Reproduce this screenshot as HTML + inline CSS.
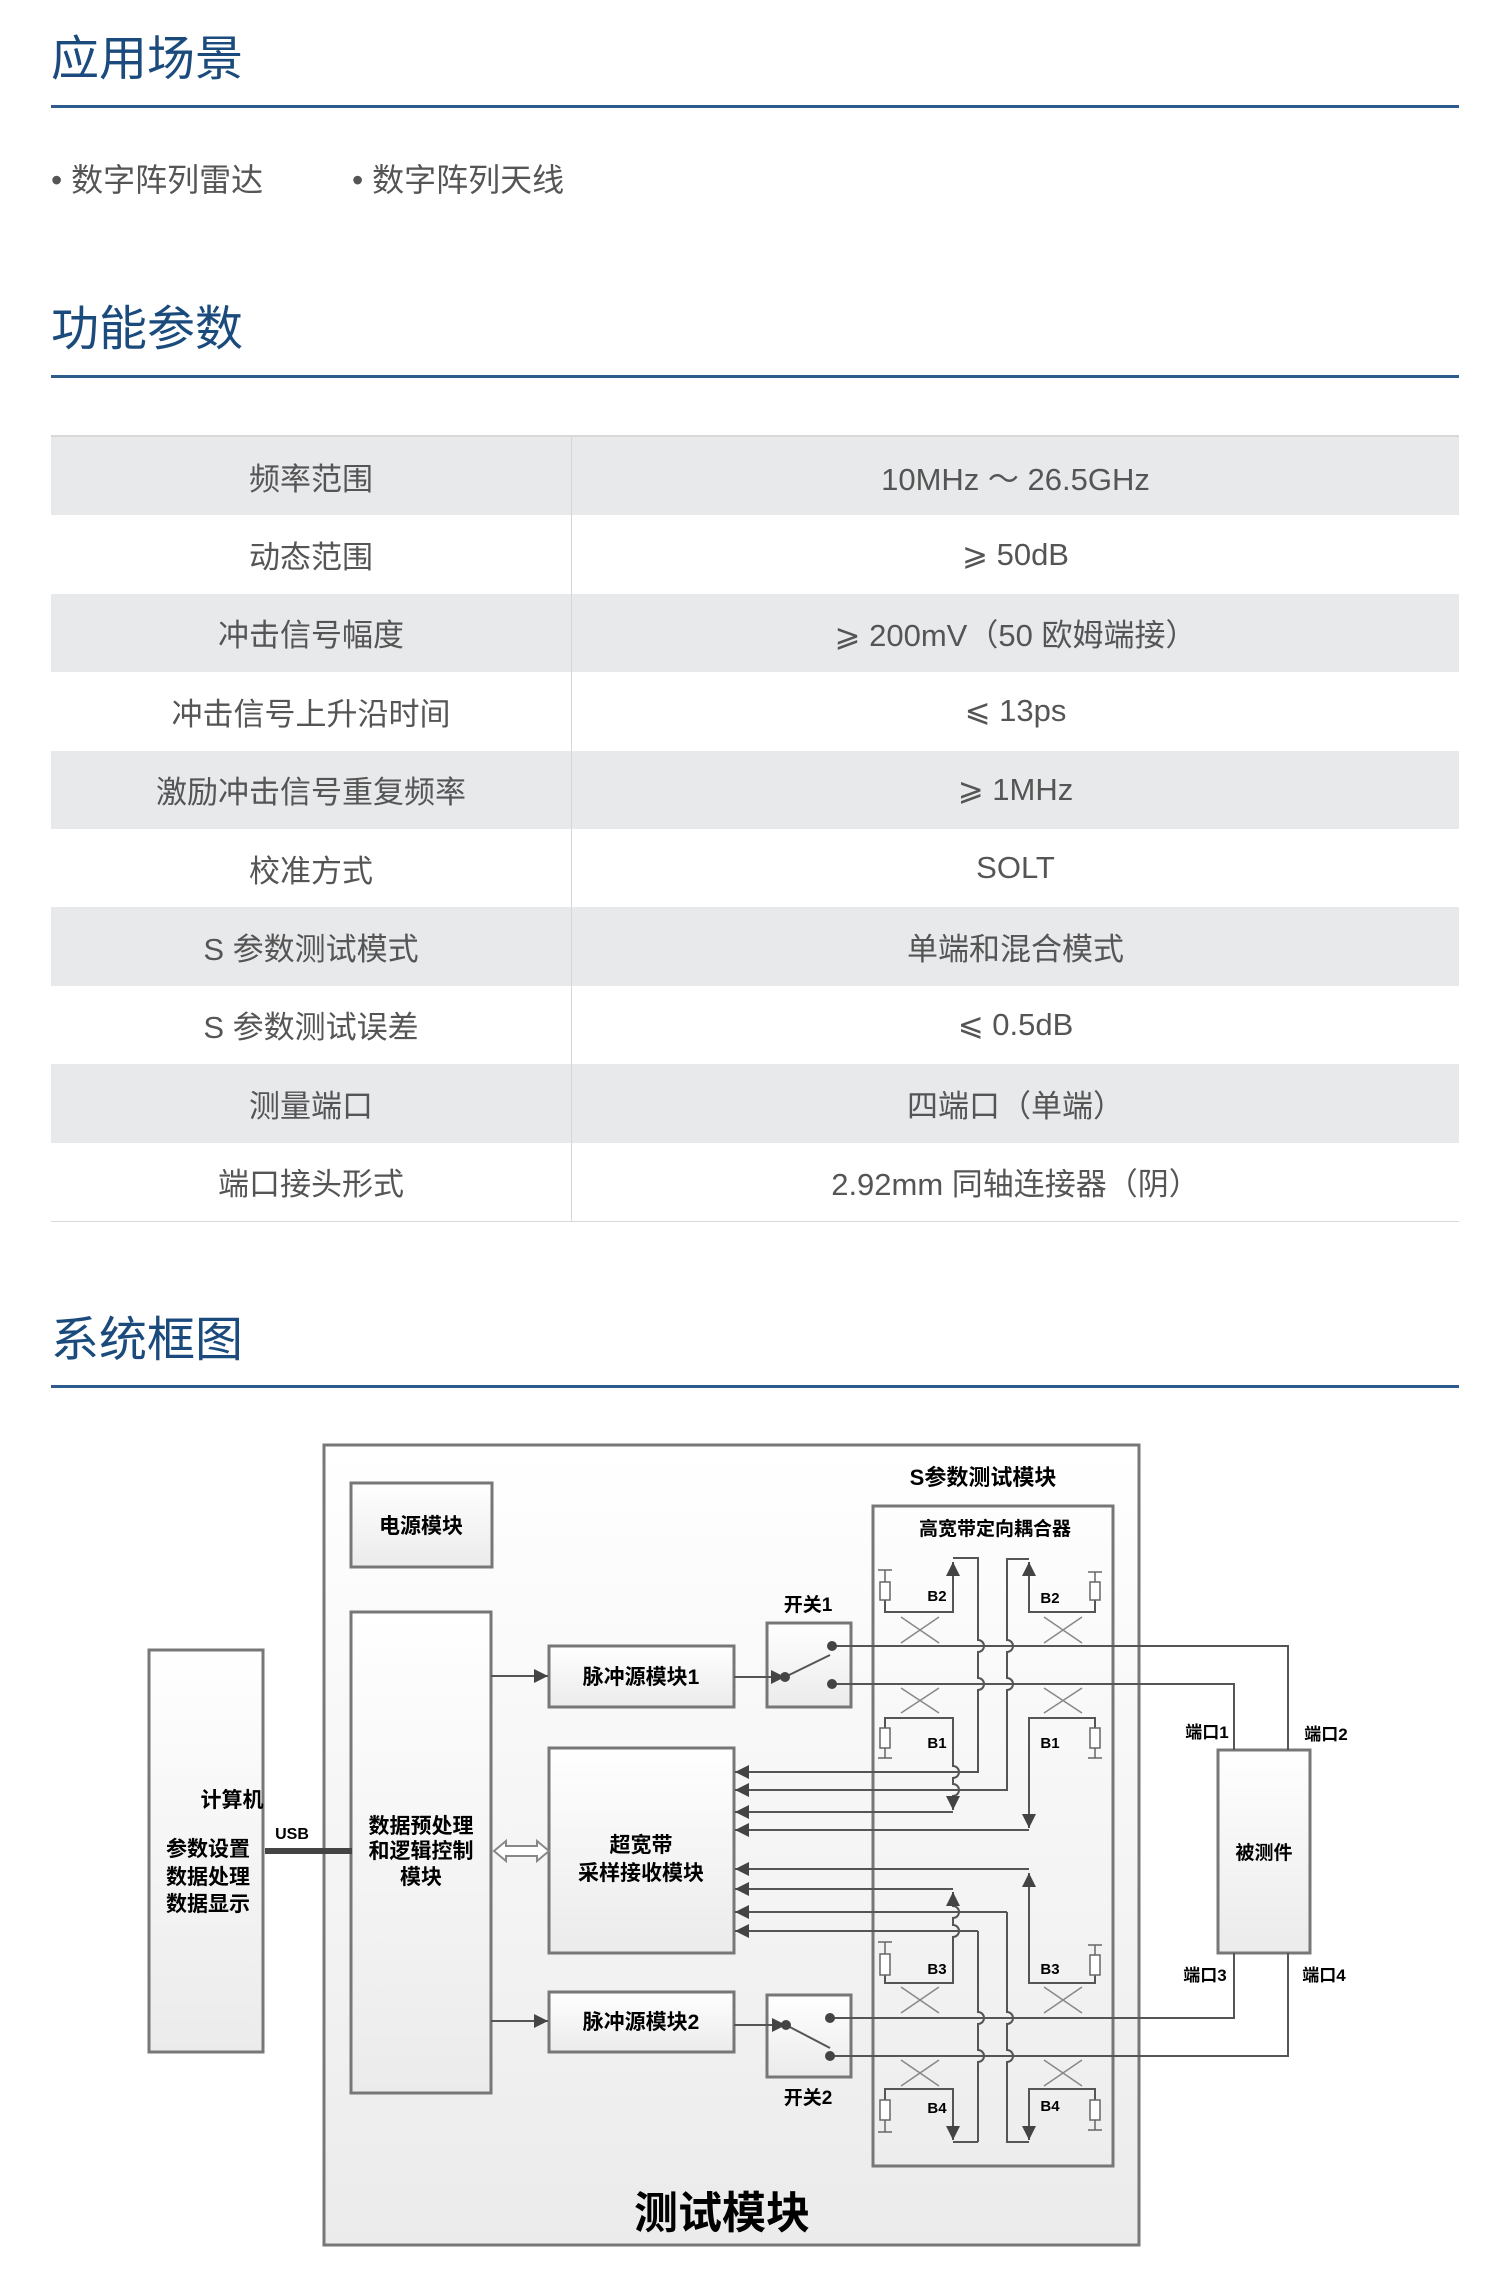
<!DOCTYPE html>
<html><head><meta charset="utf-8"><style>
body{margin:0;width:1500px;height:2282px;background:#fff;position:relative;overflow:hidden;font-family:"Liberation Sans","Noto Sans CJK SC",sans-serif;}
.h{position:absolute;left:51px;font-size:48px;color:#1b4a7c;line-height:1;}
.hl{position:absolute;left:51px;width:1408px;height:3px;background:#2d5b8c;}
.b{position:absolute;top:164px;font-size:32px;color:#555;line-height:1;}
table{position:absolute;left:51px;top:435px;width:1408px;border-collapse:collapse;border-top:2px solid #d8d8d8;border-bottom:1px solid #d8d8d8;}
td{height:78.4px;padding:0;text-align:center;font-size:31px;color:#555;}
td:first-child{width:520px;border-right:1px solid #d6d6d6;}
tr:nth-child(odd) td{background:#e8e9eb;}
</style></head><body>
<div class="h" style="top:36px">应用场景</div>
<div class="hl" style="top:105px"></div>
<div class="b" style="left:51px">• 数字阵列雷达</div>
<div class="b" style="left:352px">• 数字阵列天线</div>
<div class="h" style="top:306px">功能参数</div>
<div class="hl" style="top:375px"></div>
<table>
<tr><td>频率范围</td><td>10MHz ～ 26.5GHz</td></tr>
<tr><td>动态范围</td><td>⩾ 50dB</td></tr>
<tr><td>冲击信号幅度</td><td>⩾ 200mV（50 欧姆端接）</td></tr>
<tr><td>冲击信号上升沿时间</td><td>⩽ 13ps</td></tr>
<tr><td>激励冲击信号重复频率</td><td>⩾ 1MHz</td></tr>
<tr><td>校准方式</td><td>SOLT</td></tr>
<tr><td>S 参数测试模式</td><td>单端和混合模式</td></tr>
<tr><td>S 参数测试误差</td><td>⩽ 0.5dB</td></tr>
<tr><td>测量端口</td><td>四端口（单端）</td></tr>
<tr><td>端口接头形式</td><td>2.92mm 同轴连接器（阴）</td></tr>
</table>
<div class="h" style="top:1317px">系统框图</div>
<div class="hl" style="top:1385px"></div>

<svg style="position:absolute;left:0;top:0" width="1500" height="2282" viewBox="0 0 1500 2282" font-family="Liberation Sans, Noto Sans CJK SC, sans-serif" font-weight="bold">
<defs>
<linearGradient id="g" x1="0" y1="0" x2="0" y2="1"><stop offset="0" stop-color="#fff"/><stop offset="1" stop-color="#ebebeb"/></linearGradient>
<marker id="a2" viewBox="0 0 10 10" refX="10" refY="5" markerWidth="14" markerHeight="14" markerUnits="userSpaceOnUse" orient="auto"><path d="M0,0 L10,5 L0,10 z" fill="#444"/></marker>
</defs>
<g stroke="#777" stroke-width="3" fill="url(#g)">
<rect x="324" y="1445" width="815" height="800" fill="url(#g)"/>
<rect x="149" y="1650" width="114" height="402"/>
<rect x="351" y="1483" width="141" height="84"/>
<rect x="351" y="1612" width="140" height="481"/>
<rect x="549" y="1646" width="185" height="61"/>
<rect x="549" y="1748" width="185" height="205"/>
<rect x="549" y="1992" width="185" height="60"/>
<rect x="767" y="1623" width="84" height="84"/>
<rect x="767" y="1995" width="84" height="82"/>
<rect x="873" y="1506" width="240" height="660" fill="none"/>
<rect x="1218" y="1750" width="92" height="203"/>
</g>
<g font-size="21" fill="#000" text-anchor="middle">
<text x="232" y="1807">计算机</text>
<text x="208" y="1856">参数设置</text>
<text x="208" y="1884">数据处理</text>
<text x="208" y="1911">数据显示</text>
<text x="292" y="1839" font-size="16">USB</text>
<text x="421" y="1533">电源模块</text>
<text x="421" y="1833">数据预处理</text>
<text x="421" y="1858">和逻辑控制</text>
<text x="421" y="1884">模块</text>
<text x="641" y="1684">脉冲源模块1</text>
<text x="641" y="2029">脉冲源模块2</text>
<text x="641" y="1852">超宽带</text>
<text x="641" y="1880">采样接收模块</text>
<text x="808" y="1611" font-size="19">开关1</text>
<text x="808" y="2104" font-size="19">开关2</text>
<text x="983" y="1485" font-size="22">S参数测试模块</text>
<text x="995" y="1535" font-size="19">高宽带定向耦合器</text>
<text x="1264" y="1859" font-size="19">被测件</text>
<text x="1207" y="1738" font-size="17">端口1</text>
<text x="1326" y="1740" font-size="17">端口2</text>
<text x="1205" y="1981" font-size="17">端口3</text>
<text x="1324" y="1981" font-size="17">端口4</text>
<text x="722" y="2228" font-size="44">测试模块</text>
<g font-size="15"><text x="937" y="1601">B2</text><text x="1050" y="1603">B2</text><text x="937" y="1748">B1</text><text x="1050" y="1748">B1</text><text x="937" y="1974">B3</text><text x="1050" y="1974">B3</text><text x="937" y="2113">B4</text><text x="1050" y="2111">B4</text></g>
</g>
<line x1="265" y1="1851" x2="352" y2="1851" stroke="#444" stroke-width="6"/>
<g stroke="#555" stroke-width="2" fill="none">
<line x1="491" y1="1676" x2="548" y2="1676" marker-end="url(#a2)"/>
<line x1="491" y1="2021" x2="548" y2="2021" marker-end="url(#a2)"/>
<line x1="734" y1="1677" x2="785" y2="1677" marker-end="url(#a2)"/>
<line x1="734" y1="2025" x2="786" y2="2025" marker-end="url(#a2)"/>
<path d="M494,1851 l12,-10 v5 h31 v-5 l12,10 l-12,10 v-5 h-31 v5 z" fill="#fff" stroke="#888"/>
<line x1="785" y1="1677" x2="830" y2="1655"/>
<line x1="786" y1="2025" x2="830" y2="2048"/>
<path d="M832,1646 H1288 V1750"/>
<path d="M832,1684 H1234 V1750"/>
<path d="M830,2018 H1234 V1953"/>
<path d="M830,2056 H1288 V1953"/>
<g marker-end="url(#a2)">
<path d="M953,1772 H735"/>
<path d="M1007,1790 H735"/>
<path d="M953,1812 H735"/>
<path d="M1029,1830 H735"/>
<path d="M1029,1869 H735"/>
<path d="M953,1889 H735"/>
<path d="M1007,1912 H735"/>
<path d="M978,1931 H735"/>
</g>
<path d="M953,1558 H978 V1640 a6,6 0 0 1 0,12 V1678 a6,6 0 0 1 0,12 V1772 H953"/>
<path d="M1029,1559 H1007 V1640 a6,6 0 0 1 0,12 V1678 a6,6 0 0 1 0,12 V1790 H953"/>
<path d="M978,2142 H953 M978,2142 V2062 a6,6 0 0 0 0,-12 V2024 a6,6 0 0 0 0,-12 V1931"/>
<path d="M1029,2142 H1007 V2062 a6,6 0 0 0 0,-12 V2024 a6,6 0 0 0 0,-12 V1912"/>
<path d="M885,1600 V1612 H953 V1562" marker-end="url(#a2)"/>
<path d="M1095,1600 V1612 H1029 V1562" marker-end="url(#a2)"/>
<path d="M885,1728 V1718 H953 V1766 a6,6 0 0 1 0,12 V1784 a6,6 0 0 1 0,12 V1810" marker-end="url(#a2)"/>
<path d="M1095,1728 V1718 H1029 V1828" marker-end="url(#a2)"/>
<path d="M885,1975 V1983 H953 V1937 a6,6 0 0 0 0,-12 V1918 a6,6 0 0 0 0,-12 V1892" marker-end="url(#a2)"/>
<path d="M1095,1975 V1983 H1029 V1873" marker-end="url(#a2)"/>
<path d="M885,2100 V2089 H953 V2140" marker-end="url(#a2)"/>
<path d="M1095,2100 V2089 H1029 V2140" marker-end="url(#a2)"/>
<g stroke="#888" stroke-width="1.5">
<path d="M901,1617 L939,1643 M901,1643 L939,1617"/><path d="M1044,1617 L1082,1643 M1044,1643 L1082,1617"/>
<path d="M901,1688 L939,1713 M901,1713 L939,1688"/><path d="M1044,1688 L1082,1713 M1044,1713 L1082,1688"/>
<path d="M901,1987 L939,2013 M901,2013 L939,1987"/><path d="M1044,1987 L1082,2013 M1044,2013 L1082,1987"/>
<path d="M901,2060 L939,2086 M901,2086 L939,2060"/><path d="M1044,2060 L1082,2086 M1044,2086 L1082,2060"/>
</g>
<g stroke="#666" stroke-width="1.5" fill="#fff">
<path d="M878,1570 h14 M885,1570 v12"/><rect x="880" y="1582" width="10" height="18"/>
<path d="M1088,1572 h14 M1095,1572 v10"/><rect x="1090" y="1582" width="10" height="18"/>
<rect x="880" y="1728" width="10" height="20"/><path d="M885,1748 v10 M878,1758 h14"/>
<rect x="1090" y="1728" width="10" height="20"/><path d="M1095,1748 v10 M1088,1758 h14"/>
<path d="M878,1942 h14 M885,1942 v12"/><rect x="880" y="1954" width="10" height="21"/>
<path d="M1088,1945 h14 M1095,1945 v10"/><rect x="1090" y="1955" width="10" height="20"/>
<rect x="880" y="2100" width="10" height="20"/><path d="M885,2120 v12 M878,2132 h14"/>
<rect x="1090" y="2100" width="10" height="20"/><path d="M1095,2120 v10 M1088,2130 h14"/>
</g>
</g>
<g fill="#444">
<circle cx="785" cy="1677" r="5"/><circle cx="832" cy="1646" r="5"/><circle cx="832" cy="1684" r="5"/>
<circle cx="786" cy="2025" r="5"/><circle cx="830" cy="2018" r="5"/><circle cx="830" cy="2056" r="5"/>
</g>
</svg>
</body></html>
